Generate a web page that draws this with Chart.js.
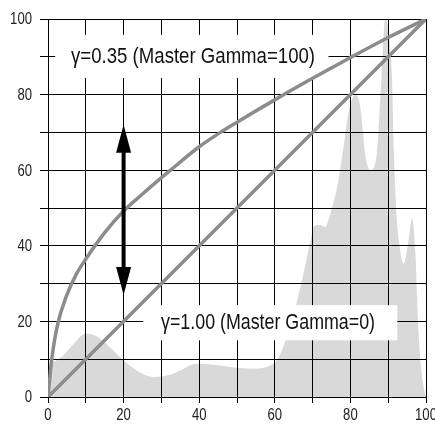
<!DOCTYPE html>
<html>
<head>
<meta charset="utf-8">
<script src="https://cdn.jsdelivr.net/npm/chart.js@4.4.0/dist/chart.umd.min.js"></script>
<style>
  html, body { margin: 0; padding: 0; background: #fff; overflow: hidden; }
  #wrap { width: 435px; height: 424px; position: relative; }
</style>
</head>
<body>
<div id="wrap"><canvas id="grafico"></canvas></div>
<script>
// === DADOS ===
const linearX = [0, 100];
const linearY = [0, 100];

const gammaX = [0, 1, 2.5, 5, 7.5, 10, 15, 20, 25, 32.4, 40, 45.6, 50, 61, 70, 80.4, 90, 100];
const gammaY = [0, 10, 19, 27, 32.5, 36.5, 43.5, 49.2, 53.7, 60, 66.2, 70, 72.7, 79.2, 84.3, 90, 95.1, 100];

const histX = [0, 2, 4, 7, 10, 13, 16, 20, 24, 28, 32, 35, 39, 44, 49, 54, 58, 61, 64, 67,
  69.5, 70.7, 72, 73.4, 74.7, 76.5, 78.2, 79.5, 81.3, 82.6, 84, 85.3, 87, 88.2, 89.2,
  90.3, 91, 91.5, 92.2, 93, 94.1, 95.4, 96.3, 97.2, 97.8, 98.5, 99.4, 100];
const histY = [8.5, 9.5, 11, 14.3, 16.8, 16, 13.5, 9.7, 6.7, 5.3, 5.8, 7, 8.8, 8.5, 7.8, 7.5, 8, 10.5, 18.5, 30,
  41.5, 45.5, 45.5, 45, 48.6, 55.6, 66.2, 75.1, 80, 76.8, 63.6, 60, 64.5, 84, 100,
  95, 85, 65, 48, 40, 35.3, 41.5, 47.3, 38, 22, 9.7, 2.6, 0];

const tickLabels = [0, 20, 40, 60, 80, 100];
const textoGamma035 = 'γ=0.35 (Master Gamma=100)';
const textoGamma100 = 'γ=1.00 (Master Gamma=0)';

const fonte = "'Liberation Sans', Arial, sans-serif";
const estreito = 0.82; // fonte condensada "fake"
const toPts = (xs, ys) => xs.map((x, i) => ({ x, y: ys[i] }));

// texto com escala horizontal
function textoEstreito(ctx, t, px, py, align, largura) {
  const w = ctx.measureText(t).width;
  const sx = largura ? largura / w : estreito;
  ctx.save();
  ctx.translate(px, py);
  ctx.scale(sx, 1);
  ctx.textAlign = 'left';
  let dx = 0;
  if (align === 'center') dx = -w / 2;
  if (align === 'right') dx = -w;
  ctx.fillText(t, dx, 0);
  ctx.restore();
}

// === CAIXAS E TEXTOS (depois do histograma, antes das curvas) ===
const anotacoes = {
  id: 'anotacoes',
  afterDatasetDraw(chart, args) {
    if (args.index !== 2) return;
    const { ctx, scales: { x, y } } = chart;
    ctx.save();

    function caixa(x0, y0, x1, y1) {
      const px0 = x.getPixelForValue(x0), px1 = x.getPixelForValue(x1);
      const py0 = y.getPixelForValue(y0), py1 = y.getPixelForValue(y1);
      ctx.fillStyle = '#fff';
      ctx.fillRect(px0, py0, px1 - px0, py1 - py0);
    }
    function texto(t, vx, vy, largura) {
      ctx.fillStyle = '#111';
      ctx.font = '22px ' + fonte;
      ctx.textBaseline = 'middle';
      textoEstreito(ctx, t, x.getPixelForValue(vx), y.getPixelForValue(vy), 'left', largura);
    }

    caixa(1.9, 95.8, 74.2, 84.4);
    texto(textoGamma035, 6.1, 90, 244);
    caixa(25.2, 24.3, 92.4, 15);
    texto(textoGamma100, 29.9, 19.6, 214);
    ctx.restore();
  },
  afterDatasetsDraw(chart) {
    const { ctx, scales: { x, y } } = chart;
    ctx.save();
    // seta dupla em x = 20
    const ax = x.getPixelForValue(20);
    const yTop = y.getPixelForValue(72);
    const yBot = y.getPixelForValue(27);
    const head = 28, half = 7.5;
    ctx.fillStyle = '#000';
    ctx.fillRect(ax - 2, yTop + head - 2, 4, (yBot - yTop) - 2 * head + 4);
    ctx.beginPath();
    ctx.moveTo(ax, yTop);
    ctx.lineTo(ax + half, yTop + head);
    ctx.lineTo(ax - half, yTop + head);
    ctx.closePath();
    ctx.fill();
    ctx.beginPath();
    ctx.moveTo(ax, yBot);
    ctx.lineTo(ax + half, yBot - head);
    ctx.lineTo(ax - half, yBot - head);
    ctx.closePath();
    ctx.fill();

    // rotulos dos eixos
    ctx.fillStyle = '#222';
    ctx.font = '16px ' + fonte;
    ctx.textBaseline = 'middle';
    tickLabels.forEach(v => {
      textoEstreito(ctx, String(v), x.getPixelForValue(v), y.bottom + 19, 'center');
      textoEstreito(ctx, String(v), x.left - 16, y.getPixelForValue(v) + 1, 'right');
    });
    ctx.restore();
  }
};

// === GRAFICO ===
const ctx = document.getElementById('grafico').getContext('2d');
const eixo = (isX) => ({
  type: 'linear',
  min: 0,
  max: 100,
  border: { color: '#000', width: 1 },
  grid: { color: '#000', lineWidth: 1, tickLength: isX ? 6 : 8, drawTicks: true },
  ticks: { stepSize: 10, autoSkip: false, maxRotation: 0, display: false },
  afterFit: (s) => {
    if (isX) { s.height = 27; s.paddingRight = 0; s.paddingLeft = 0; }
    else { s.width = 48; s.paddingTop = 0; s.paddingBottom = 0; }
  }
});

new Chart(ctx, {
  type: 'line',
  data: {
    datasets: [
      {
        label: 'gamma 0.35',
        data: toPts(gammaX, gammaY),
        borderColor: '#8c8c8c',
        borderWidth: 3.5,
        pointRadius: 0,
        cubicInterpolationMode: 'monotone',
        fill: false,
        order: 1
      },
      {
        label: 'gamma 1.00',
        data: toPts(linearX, linearY),
        borderColor: '#8c8c8c',
        borderWidth: 3.5,
        pointRadius: 0,
        fill: false,
        order: 2
      },
      {
        label: 'histograma',
        data: toPts(histX, histY),
        borderWidth: 0,
        borderColor: 'rgba(0,0,0,0)',
        backgroundColor: 'rgba(0,0,0,0.15)',
        pointRadius: 0,
        cubicInterpolationMode: 'monotone',
        fill: 'origin',
        order: 3
      }
    ]
  },
  options: {
    responsive: true,
    maintainAspectRatio: false,
    animation: false,
    layout: { padding: { top: 19, right: 9, left: 0, bottom: 0 } },
    plugins: { legend: { display: false }, tooltip: { enabled: false } },
    scales: { x: eixo(true), y: eixo(false) }
  },
  plugins: [anotacoes]
});
</script>
</body>
</html>
